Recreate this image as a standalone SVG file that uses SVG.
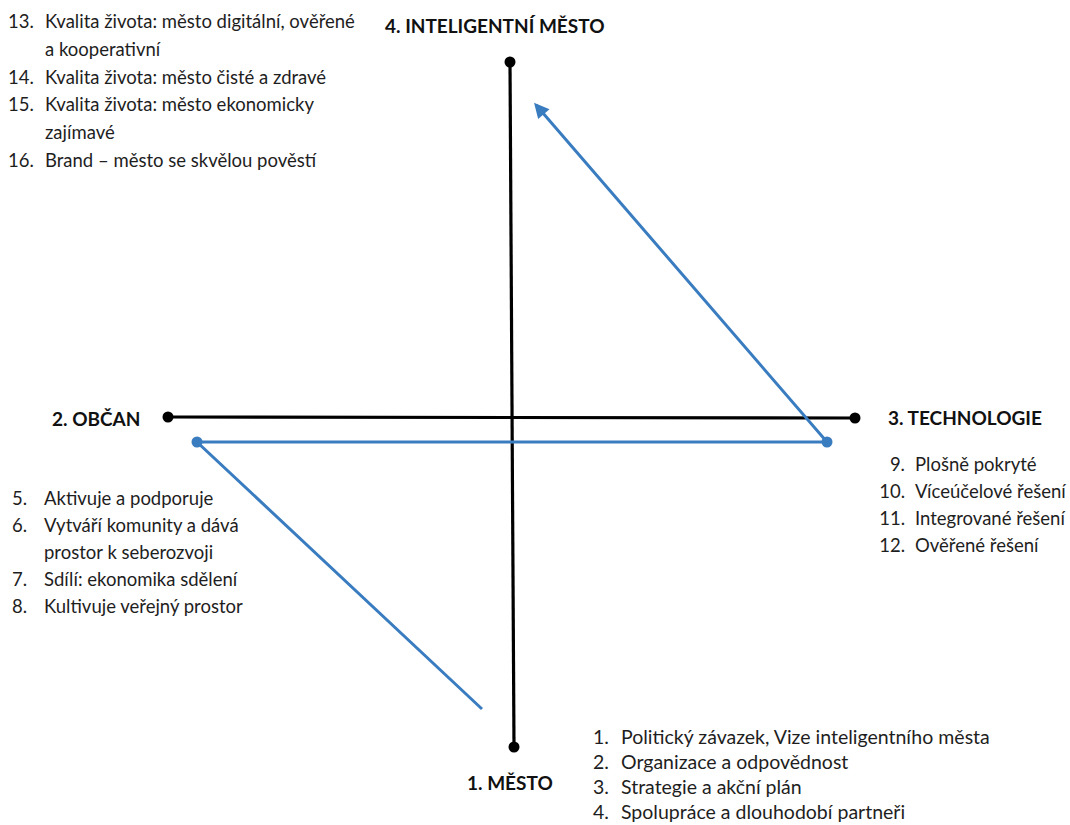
<svg xmlns="http://www.w3.org/2000/svg" width="1070" height="825" viewBox="0 0 1070 825">
<style>
  text { font-family: Lato, "Open Sans", "Liberation Sans", sans-serif; fill: #1e1e1e; }
  .item { font-size: 18.5px; }
  .big { font-size: 19.5px; }
  .head { font-size: 19px; font-weight: bold; fill: #111; }
  .axis { stroke: #000; stroke-width: 3.2; fill: none; }
  .flow { stroke: #3a7cc0; stroke-width: 3; fill: none; }
  .bdot { fill: #000; }
  .fdot { fill: #3a7cc0; }
</style>
<defs>
  <marker id="arr" viewBox="0 0 10 10" refX="8" refY="5" markerWidth="5.5" markerHeight="5" orient="auto" markerUnits="strokeWidth">
    <path d="M0,0 L10,5 L0,10 Z" fill="#3a7cc0"/>
  </marker>
</defs>
<rect width="1070" height="825" fill="#fff"/>

<g id="axes">
  <line class="axis" x1="510" y1="62" x2="514" y2="747"/>
  <line class="axis" x1="168" y1="417" x2="855" y2="418"/>
  <circle class="bdot" cx="510" cy="62" r="5.5"/>
  <circle class="bdot" cx="514" cy="747" r="5.5"/>
  <circle class="bdot" cx="168" cy="417" r="5.5"/>
  <circle class="bdot" cx="855" cy="418" r="5.5"/>
</g>

<g id="connectors">
  <polyline class="flow" points="482,709 197,442 827,442 536,105" marker-end="url(#arr)"/>
  <circle class="fdot" cx="197" cy="442" r="5.5"/>
  <circle class="fdot" cx="827" cy="442" r="5.5"/>
</g>

<g id="node-inteligentni-mesto">
  <text class="head" x="385" y="33">4. INTELIGENTNÍ MĚSTO</text>
  <text class="item" x="8" y="28">13.</text>
  <text class="item" x="45" y="28">Kvalita života: město digitální, ověřené</text>
  <text class="item" x="45" y="56">a kooperativní</text>
  <text class="item" x="8" y="84">14.</text>
  <text class="item" x="45" y="84">Kvalita života: město čisté a zdravé</text>
  <text class="item" x="8" y="111">15.</text>
  <text class="item" x="45" y="111">Kvalita života: město ekonomicky</text>
  <text class="item" x="45" y="139">zajímavé</text>
  <text class="item" x="8" y="167">16.</text>
  <text class="item" x="45" y="167">Brand – město se skvělou pověstí</text>
</g>

<g id="node-obcan">
  <text class="head" x="52" y="426">2. OBČAN</text>
  <text class="item" x="12" y="505">5.</text>
  <text class="item" x="44" y="505">Aktivuje a podporuje</text>
  <text class="item" x="12" y="532">6.</text>
  <text class="item" x="44" y="532">Vytváří komunity a dává</text>
  <text class="item" x="44" y="559">prostor k seberozvoji</text>
  <text class="item" x="12" y="586">7.</text>
  <text class="item" x="44" y="586">Sdílí: ekonomika sdělení</text>
  <text class="item" x="12" y="613">8.</text>
  <text class="item" x="44" y="613">Kultivuje veřejný prostor</text>
</g>

<g id="node-technologie">
  <text class="head" x="888" y="425">3. TECHNOLOGIE</text>
  <text class="item" x="905" y="471" text-anchor="end">9.</text>
  <text class="item" x="915" y="471">Plošně pokryté</text>
  <text class="item" x="905" y="498" text-anchor="end">10.</text>
  <text class="item" x="915" y="498">Víceúčelové řešení</text>
  <text class="item" x="905" y="525" text-anchor="end">11.</text>
  <text class="item" x="915" y="525">Integrované řešení</text>
  <text class="item" x="905" y="552" text-anchor="end">12.</text>
  <text class="item" x="915" y="552">Ověřené řešení</text>
</g>

<g id="node-mesto">
  <text class="head" x="467" y="790">1. MĚSTO</text>
  <text class="big" x="593" y="744">1.</text>
  <text class="big" x="621" y="744">Politický závazek, Vize inteligentního města</text>
  <text class="big" x="593" y="769">2.</text>
  <text class="big" x="621" y="769">Organizace a odpovědnost</text>
  <text class="big" x="593" y="794">3.</text>
  <text class="big" x="621" y="794">Strategie a akční plán</text>
  <text class="big" x="593" y="819">4.</text>
  <text class="big" x="621" y="819">Spolupráce a dlouhodobí partneři</text>
</g>
</svg>
